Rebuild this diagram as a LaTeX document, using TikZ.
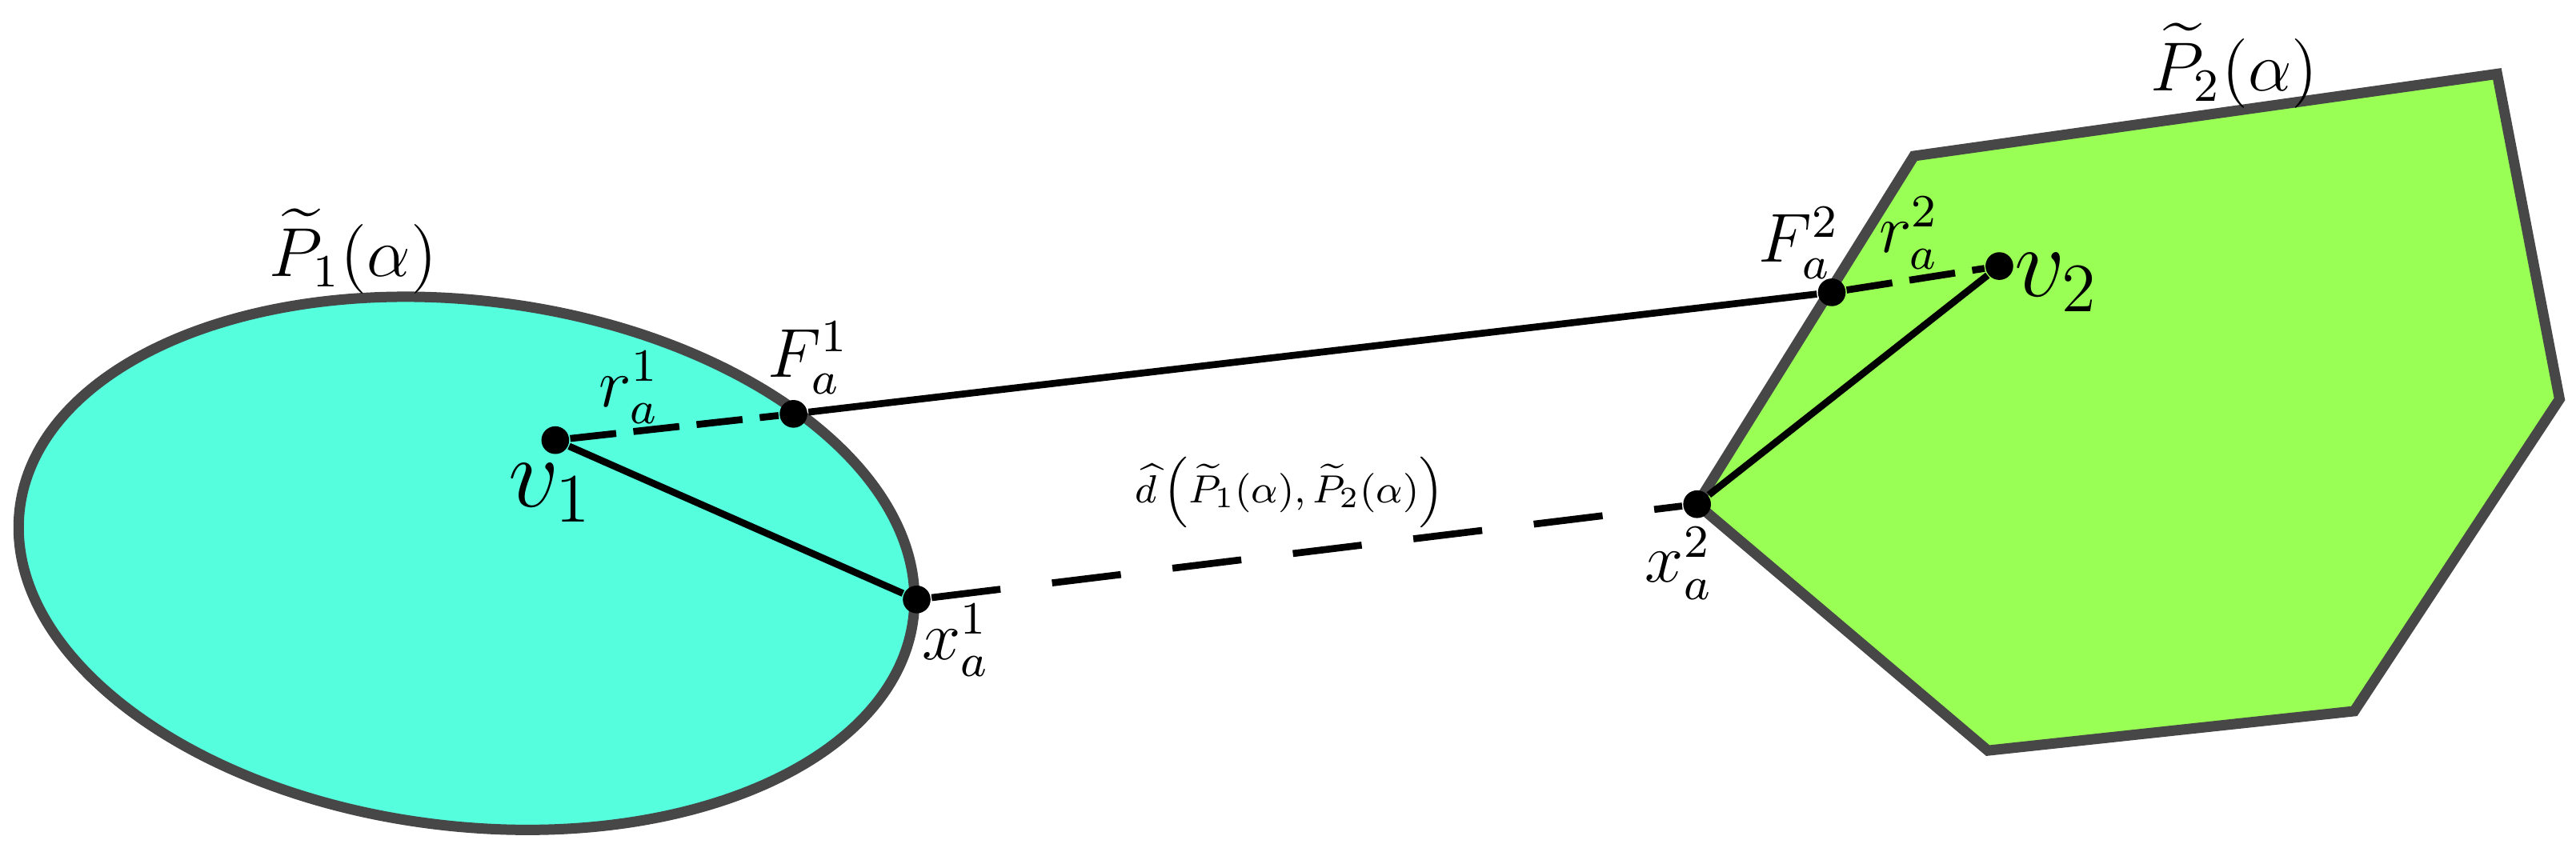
\documentclass[tikz,border=0pt]{standalone}
\usepackage{amsmath}
\begin{document}
\begin{tikzpicture}[x=0.01cm,y=-0.01cm,
  dot/.style={circle,fill=black,inner sep=0pt,minimum size=4.8pt},
  shp/.style={draw=black!72,line width=1.8pt},
  seg/.style={line width=1.2pt},
  lbl/.style={inner sep=1pt}]
\useasboundingbox (0,0) rectangle (1568,521);
\fill[shp,fill={rgb,255:red,85;green,255;blue,221}] (284,343) ellipse [x radius=274,y radius=160,rotate=-7];
\fill[shp,fill={rgb,255:red,153;green,255;blue,85}] (1165,95) -- (1520,45) -- (1558,243) -- (1433,433) -- (1210,457) -- (1033,307) -- cycle;
\node[dot] (v1) at (338,268) {};
\node[dot] (F1) at (483,252) {};
\node[dot] (x1) at (558,365) {};
\node[dot] (x2) at (1033,307) {};
\node[dot] (F2) at (1115,178) {};
\node[dot] (v2) at (1217,162) {};
\draw[seg,dash pattern=on 8pt off 3pt] (v1) -- (F1);
\draw[seg] (F1) -- (F2);
\draw[seg,dash pattern=on 8pt off 3pt] (F2) -- (v2);
\draw[seg] (v2) -- (x2);
\draw[seg] (v1) -- (x1);
\draw[seg,dash pattern=on 12pt off 9pt] (x1) -- (x2);
\node[lbl,font=\large] (p1) at (215,153) {$\widetilde{P}_1(\alpha)$};
\node[lbl,font=\large] (p2) at (1360,40) {$\widetilde{P}_2(\alpha)$};
\node[lbl,font=\LARGE] (lv1) at (335,300) {$v_1$};
\node[lbl,font=\LARGE] (lv2) at (1252,172) {$v_2$};
\node[lbl,font=\large] (lr1) at (383,236) {$r_a^1$};
\node[lbl,font=\large] (lr2) at (1162,142) {$r_a^2$};
\node[lbl,font=\large] (lF1) at (492,218) {$F_a^1$};
\node[lbl,font=\large] (lF2) at (1095,148) {$F_a^2$};
\node[lbl,font=\large] (lx1) at (582,390) {$x_a^1$};
\node[lbl,font=\large] (lx2) at (1022,343) {$x_a^2$};
\node[lbl,font=\footnotesize,scale=0.85] (ld) at (785,300) {$\widehat{d}\left(\widetilde{P}_1(\alpha),\widetilde{P}_2(\alpha)\right)$};
\end{tikzpicture}
\end{document}
